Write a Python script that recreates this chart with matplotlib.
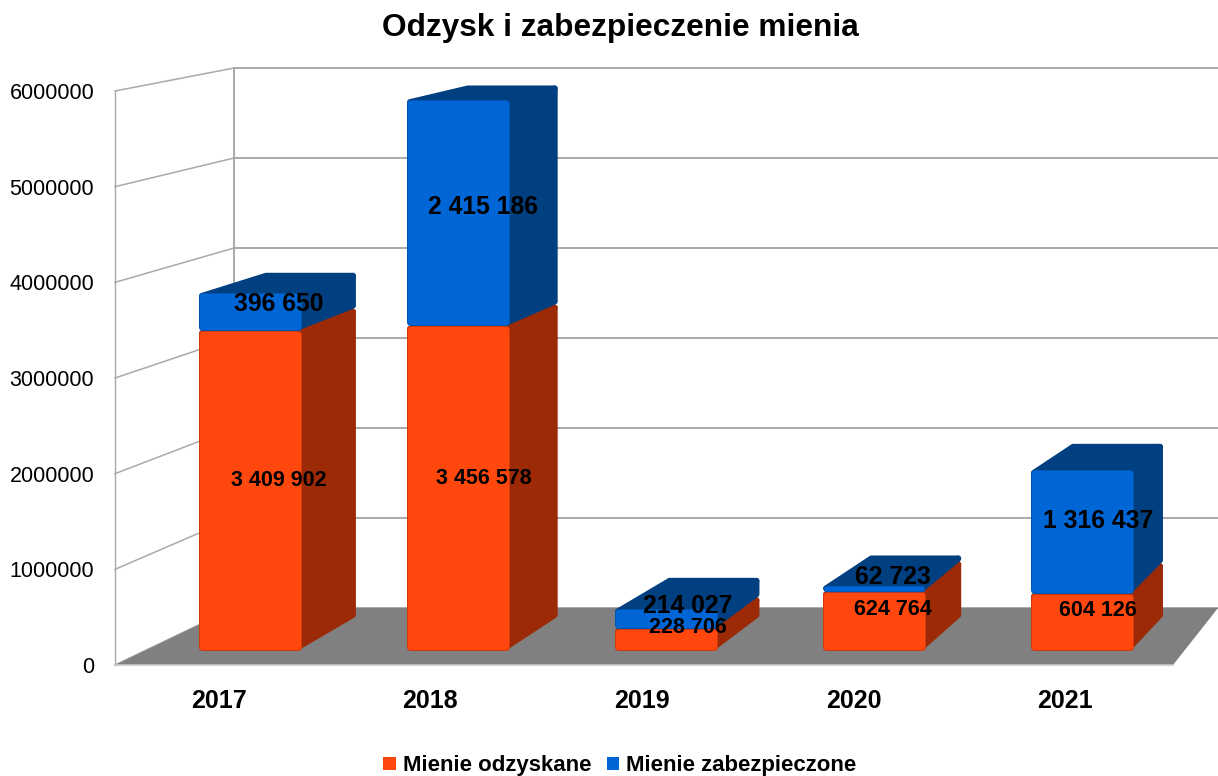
import numpy as np
from matplotlib import pyplot as plt
from matplotlib.patches import Polygon, Patch

plt.rcParams['font.family'] = ['Liberation Sans', 'DejaVu Sans']

lata = ['2017', '2018', '2019', '2020', '2021']
odzyskane = [3409902, 3456578, 228706, 624764, 604126]
zabezpieczone = [396650, 2415186, 214027, 62723, 1316437]
napisy_odz = ['3 409 902', '3 456 578', '228 706', '624 764', '604 126']
napisy_zab = ['396 650', '2 415 186', '214 027', '62 723', '1 316 437']
y_ticks = [0, 1000000, 2000000, 3000000, 4000000, 5000000, 6000000]

POM = '#ff470e'
POM_BOK = '#9c2a07'
POM_KRAW = '#cf3a0c'
NIEB = '#0066d6'
NIEB_BOK = '#003f80'
NIEB_KRAW = '#0055b0'
SIATKA = '#a9a9a9'

#rzut "3D": kazda plaszczyzna to przeskalowane wspolrzedne osi
def sciana_tyl(v):
    return 0.9407*v + 595800

def slupek_przod(x, v):
    return 0.983*x + 0.1465, 0.9805*v + 156790

def slupek_tyl(x, v):
    xp, _ = slupek_przod(x, v)
    return 0.97*xp + 0.2861, 0.948*v + 491300

X_TYL = 0.5624
X_KONIEC = 5.2127
SZER = 0.245
PX_X = 5/1058          #jeden piksel w jednostkach osi x
PX_Y = 6000000/574     #jeden piksel w jednostkach osi y
PT = 72/100            #jeden piksel w punktach

fig = plt.figure(figsize=(12.18, 7.76), dpi=100)
ax = fig.add_axes([115/1218, (776-665)/776, 1058/1218, 574/776])
ax.set_xlim(0, 5)
ax.set_ylim(0, 6000000)
for s in ax.spines.values():
    s.set_visible(False)

#podloga
ax.add_patch(Polygon([(0, 0), (X_TYL, sciana_tyl(0)), (X_KONIEC, sciana_tyl(0)), (5, 0)],
                     closed=True, fc='#808080', ec='none', clip_on=False, zorder=1))
ax.plot([0, 5], [0, 0], color='#c8c8c8', lw=1.2, clip_on=False, zorder=1.5)

#siatka na scianach
for v in y_ticks:
    ax.plot([0, X_TYL], [v, sciana_tyl(v)], color=SIATKA, lw=1.1, clip_on=False, zorder=0.5)
    ax.plot([X_TYL, X_KONIEC], [sciana_tyl(v), sciana_tyl(v)], color=SIATKA, lw=1.4, clip_on=False, zorder=0.5)
ax.plot([0, 0], [0, 6000000], color=SIATKA, lw=1.0, clip_on=False, zorder=0.5)
ax.plot([X_TYL, X_TYL], [sciana_tyl(0), sciana_tyl(6000000)], color=SIATKA, lw=1.4, clip_on=False, zorder=0.5)


def rysuj_klocek(i, dol, gora, kolor, bok, kraw, z):
    xc = i + 0.5
    x0 = xc - SZER
    x1 = xc + SZER
    wsp = dict(closed=True, clip_on=False, joinstyle='round', zorder=z)

    #bok i gora, tylne rogi cofniete o pare pikseli i zaokraglone grubym obrysem
    m = 3
    mx = m*PX_X
    my = m*PX_Y
    xt1 = slupek_tyl(x1, dol)[0] - mx
    xt0 = slupek_tyl(x0, dol)[0] + 3*mx
    yt_d = slupek_tyl(x1, dol)[1] + my
    yt_g = slupek_tyl(x1, gora)[1] - my
    if yt_g < yt_d:
        yt_g = yt_d = (yt_g + yt_d)/2
    ax.add_patch(Polygon([slupek_przod(x1 - mx, dol + my), (xt1, yt_d), (xt1, yt_g), slupek_przod(x1 - mx, gora - my)],
                         fc=bok, ec=bok, lw=2*m*PT, **wsp))
    ax.add_patch(Polygon([slupek_przod(x0 + mx, gora - my), slupek_przod(x1 - mx, gora - my), (xt1, yt_g), (xt0, yt_g)],
                         fc=bok, ec=bok, lw=2*m*PT, **wsp))

    #przod: ciemniejsza obwodka i jasniejszy srodek
    wys = (gora - dol)/PX_Y
    r = min(3.5, wys/2 - 0.3)
    rx = r*PX_X
    ry = r*PX_Y
    naroza = [slupek_przod(x0 + rx, dol + ry), slupek_przod(x1 - rx, dol + ry),
              slupek_przod(x1 - rx, gora - ry), slupek_przod(x0 + rx, gora - ry)]
    ax.add_patch(Polygon(naroza, fc=kraw, ec=kraw, lw=2*r*PT, **wsp))
    ax.add_patch(Polygon(naroza, fc=kolor, ec=kolor, lw=max(2*r - 2, 0.5)*PT, **wsp))


def pozycja_napisu(i, dol, gora):
    xc = i + 0.5
    lewy, _ = slupek_przod(xc - SZER, dol)
    prawy, _ = slupek_tyl(xc + SZER, dol)
    ys = [slupek_przod(xc, dol)[1], slupek_przod(xc, gora)[1], slupek_tyl(xc, dol)[1], slupek_tyl(xc, gora)[1]]
    return (lewy + prawy)/2, np.mean(ys)


for i in range(len(lata)):
    o = odzyskane[i]
    z = zabezpieczone[i]
    rysuj_klocek(i, 0, o, POM, POM_BOK, POM_KRAW, 3 + i*0.01)
    rysuj_klocek(i, o, o + z, NIEB, NIEB_BOK, NIEB_KRAW, 4 + i*0.01)

for i in range(len(lata)):
    o = odzyskane[i]
    z = zabezpieczone[i]
    ax.annotate(napisy_odz[i], pozycja_napisu(i, 0, o), xytext=(0.7, -3), textcoords='offset points',
                ha='center', va='center', fontsize=15.5, fontweight='bold', color='black', zorder=6, annotation_clip=False)
    ax.annotate(napisy_zab[i], pozycja_napisu(i, o, o + z), xytext=(0.7, -2.2), textcoords='offset points',
                ha='center', va='center', fontsize=17.8, fontweight='bold', color='black', zorder=6.5, annotation_clip=False)

ax.set_yticks(y_ticks)
ax.set_yticklabels([str(v) for v in y_ticks], fontsize=15.5)
ax.set_xticks(np.arange(len(lata)) + 0.49)
ax.set_xticklabels(lata, fontsize=18, fontweight='bold')
ax.tick_params(axis='y', length=0, pad=15)
ax.tick_params(axis='x', length=0, pad=17)
ax.set_facecolor('none')

fig.suptitle('Odzysk i zabezpieczenie mienia', x=620/1218, y=1-28/776, va='center', fontsize=22.8, fontweight='bold')

uchwyty = [Patch(fc=POM, ec='none', label='Mienie odzyskane'), Patch(fc=NIEB, ec='none', label='Mienie zabezpieczone')]
fig.legend(handles=uchwyty, loc='center', bbox_to_anchor=(620/1218, 1-766/776), ncol=2, frameon=False,
           prop={'weight': 'bold', 'size': 16}, handlelength=0.55, handleheight=0.55,
           handletextpad=0.32, columnspacing=0.72, borderpad=0)

fig.savefig('out.png', dpi=100)
